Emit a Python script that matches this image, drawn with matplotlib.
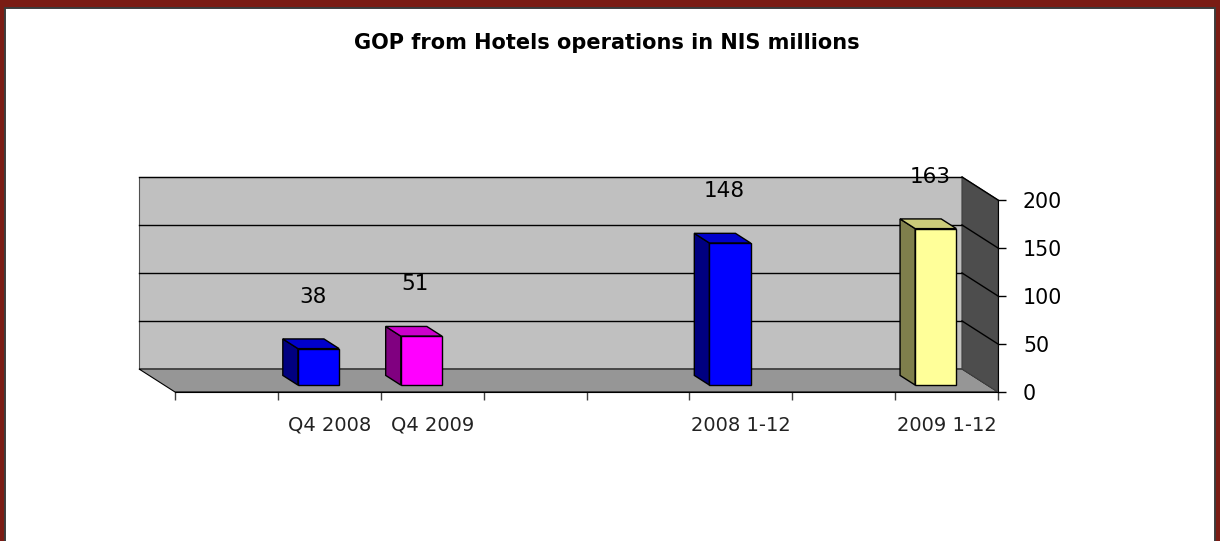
import matplotlib
matplotlib.use("Agg")
import matplotlib.pyplot as plt
import numpy as np
from matplotlib.patches import Polygon, Rectangle

plt.rcParams['font.family'] = ['DejaVu Sans']

# ---- data ----
categories = ["", "Q4 2008", "Q4 2009", "", "", "2008 1-12", "", "2009 1-12"]
values = [np.nan, 38, 51, np.nan, np.nan, 148, np.nan, 163]
front_colors = [None, "#0000FF", "#FF00FF", None, None, "#0000FF", None, "#FFFF99"]
side_colors = [None, "#000080", "#800080", None, None, "#000080", None, "#7F7F4C"]
top_colors = [None, "#0000CC", "#CC00CC", None, None, "#0000CC", None, "#CCCC7A"]
yticks = [0, 50, 100, 150, 200]
title = "GOP from Hotels operations in NIS millions"

W, H = 1220, 541
fig = plt.figure(figsize=(W / 100, H / 100), dpi=100, facecolor="#7A1C14")

# white inner panel with dark border
fig.patches.append(Rectangle((5 / W, -0.05), (1215 - 5) / W, (H - 8) / H + 0.05,
                             transform=fig.transFigure, facecolor="white",
                             edgecolor="#3C3C3C", linewidth=1.4, zorder=-5))

ax = fig.add_axes([175 / W, (H - 392) / H, (998 - 175) / W, (392 - 200) / H])
ax.set_zorder(2)
ax.set_xlim(0, len(categories))
ax.set_ylim(0, 200)
ax.patch.set_visible(False)

# 3D depth offsets in data units (full depth)
DX, DY = -0.35, 24.0


def P(x, y, d):
    return (x + DX * d, y + DY * d)


n = len(categories)
# back wall
ax.add_patch(Polygon([P(0, 0, 1), P(n, 0, 1), P(n, 200, 1), P(0, 200, 1)],
                     facecolor="#C0C0C0", edgecolor="#505050", lw=0.8, zorder=1, clip_on=False))
# floor
ax.add_patch(Polygon([P(0, 0, 0), P(n, 0, 0), P(n, 0, 1), P(0, 0, 1)],
                     facecolor="#969696", edgecolor="black", lw=0.8, zorder=1, clip_on=False))
# right side wall
ax.add_patch(Polygon([P(n, 0, 0), P(n, 0, 1), P(n, 200, 1), P(n, 200, 0)],
                     facecolor="#4D4D4D", edgecolor="#404040", lw=0.8, zorder=1, clip_on=False))
# gridlines on back wall and side wall
for v in yticks[1:]:
    a, b = P(0, v, 1), P(n, v, 1)
    ax.plot([a[0], b[0]], [a[1], b[1]], color="black", lw=1.0, zorder=2, clip_on=False)
    c = P(n, v, 0)
    ax.plot([b[0], c[0]], [b[1], c[1]], color="black", lw=1.0, zorder=2, clip_on=False)

# bars
bw = 0.4
f0, f1 = 0.30, 0.72
for i, v in enumerate(values):
    if np.isnan(v):
        continue
    xc = i + 0.5
    xl, xr = xc - bw / 2, xc + bw / 2
    side = [P(xl, 0, f0), P(xl, 0, f1), P(xl, v, f1), P(xl, v, f0)]
    top = [P(xl, v, f0), P(xr, v, f0), P(xr, v, f1), P(xl, v, f1)]
    front = [P(xl, 0, f0), P(xr, 0, f0), P(xr, v, f0), P(xl, v, f0)]
    for poly, col in ((side, side_colors[i]), (top, top_colors[i]), (front, front_colors[i])):
        ax.add_patch(Polygon(poly, facecolor=col, edgecolor="black", lw=1.0,
                             zorder=3, clip_on=False))
    lx, ly = P(xc, v, f0)
    ax.annotate(f"{v:g}", (lx, ly), xytext=(-6, 52), textcoords="offset pixels",
                ha="center", va="center", fontsize=15.5, color="black", zorder=5,
                annotation_clip=False)

# axes styling
for s in ("top", "left"):
    ax.spines[s].set_visible(False)
ax.spines["bottom"].set_color("black")
ax.spines["right"].set_color("black")
ax.spines["bottom"].set_zorder(4)
ax.spines["right"].set_zorder(4)

ax.yaxis.tick_right()
ax.set_yticks(yticks)
ax.set_yticklabels([str(t) for t in yticks])
ax.tick_params(axis="y", which="major", direction="out", length=6, width=1,
               pad=12, labelsize=14.8, colors="black")

ax.set_xticks(np.arange(n + 1))
ax.set_xticklabels([])
ax.set_xticks(np.arange(n) + 0.5, minor=True)
ax.set_xticklabels(categories, minor=True)
ax.tick_params(axis="x", which="major", direction="out", length=6, width=1, color="#404040")
ax.tick_params(axis="x", which="minor", length=0, pad=17, labelsize=14, labelcolor="#222222")

fig.text(607 / W, 1 - 43 / H, title, ha="center", va="center", fontsize=15,
         fontweight="bold", color="black")

fig.savefig("out.png", dpi=100, facecolor=fig.get_facecolor())
